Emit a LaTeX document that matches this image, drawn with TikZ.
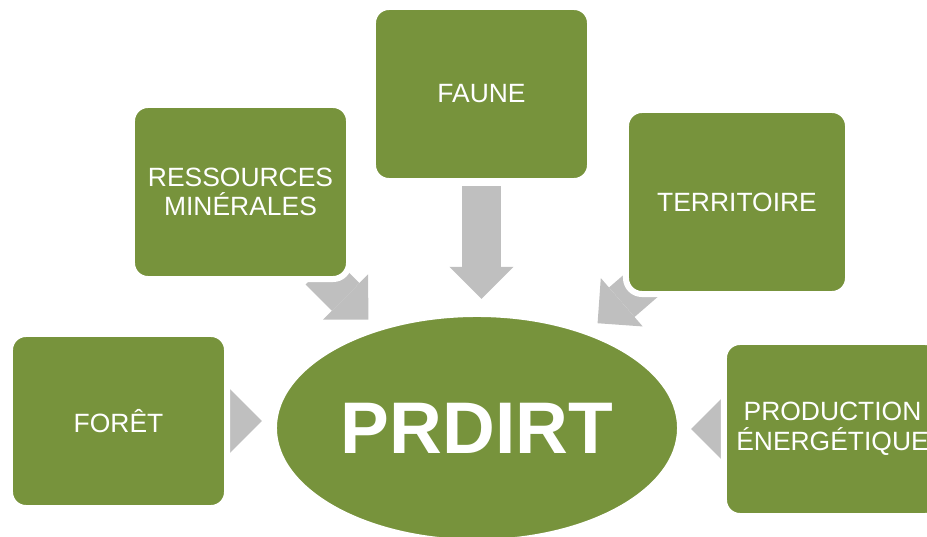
\documentclass[tikz,border=0pt]{standalone}
\usepackage{fontspec}
\setmainfont{Liberation Sans}
\usepackage{tikz}
\usetikzlibrary{arrows.meta,positioning,calc,shapes.geometric,backgrounds}
\definecolor{leaf}{RGB}{119,147,60}
\definecolor{flowgrey}{RGB}{191,191,191}

\begin{document}
\begin{tikzpicture}[x=0.025cm, y=-0.025cm,
  topic/.style={draw=white, line width=0.15cm, fill=leaf, rounded corners=0.4cm, text=white, align=center,
    minimum width=5.425cm, minimum height=4.35cm, inner sep=0pt, font=\fontsize{18.8}{21}\selectfont},
  hub/.style={ellipse, draw=white, line width=0.15cm, fill=leaf, text=white, inner sep=0pt,
    minimum width=10.15cm, minimum height=5.7cm, font=\fontsize{52}{60}\selectfont\bfseries},
  flow/.style={draw=flowgrey, line width=0.975cm, -{Triangle[length=0.8cm, width=1.6cm, line width=0pt]}}]
  \useasboundingbox (0,0) rectangle (927,537);
  \node[hub] (prdirt) at (477,428) {PRDIRT};
  \node[topic] (foret) at (118.5,421) {FORÊT};
  \node[topic] (ress) at (240.5,192) {RESSOURCES\\MINÉRALES};
  \node[topic] (faune) at (481.5,94) {FAUNE};
  \node[topic, minimum width=5.55cm, minimum height=4.6cm] (terr) at (737,202) {TERRITOIRE};
  \node[topic] (prod) at (832.5,429) {PRODUCTION\\ÉNERGÉTIQUE};
  \begin{scope}[on background layer]
    \draw[flow, shorten >=0.225cm] (foret) -- (foret -| prdirt.west);
    \draw[flow, shorten <=-0.4cm, shorten >=0.24cm] (ress) -- (prdirt);
    \draw[flow, shorten <=0.05cm, shorten >=0.3cm] (faune) -- (faune |- prdirt.north);
    \draw[flow, shorten <=-0.6cm, shorten >=0.26cm] (terr) -- (prdirt);
    \draw[flow, shorten >=0.2cm] (prod) -- (prod -| prdirt.east);
  \end{scope}
\end{tikzpicture}
\end{document}
